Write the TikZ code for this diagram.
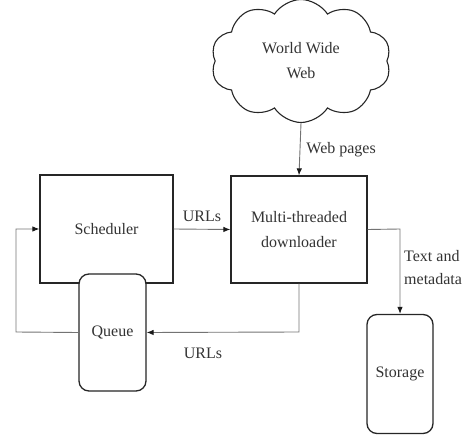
\documentclass[tikz,border=0pt]{standalone}
\usepackage{fontspec}
\setmainfont{Liberation Serif}
\usetikzlibrary{shapes.symbols,arrows.meta}
\begin{document}
\begin{tikzpicture}[x=1pt,y=-1pt,
  every node/.style={font=\fontsize{16}{25}\selectfont, text=black!80},
  box/.style={draw=black!85, line width=1.3pt, fill=white, inner sep=0pt},
  roundbox/.style={box, rounded corners=10pt},
  link/.style={draw=black!55, line width=0.9pt, -{Latex[length=7pt,width=5.5pt,color=black!90]}},
  lbl/.style={inner sep=0pt}]
\useasboundingbox (0,0) rectangle (465,435);

% main components
\node[box, minimum width=133pt, minimum height=108pt] (sched) at (106.5,229) {Scheduler};
\node[box, minimum width=136pt, minimum height=107pt, align=center] (dl) at (299,229.5) {Multi-threaded\\downloader};
\node[roundbox, minimum width=67pt, minimum height=117pt] (queue) at (112.5,332.5) {Queue};
\node[roundbox, minimum width=66pt, minimum height=119pt] (store) at (400,374) {Storage};
\node[cloud, draw=black!85, line width=1.1pt, cloud puffs=10, cloud puff arc=115,
      minimum width=180pt, minimum height=113pt, inner sep=0pt, align=center] (web) at (301,61) {World Wide\\Web};

% helper points for the bent connectors
\coordinate (qleft) at (16,332);
\coordinate (dlbot) at (299,332);
\coordinate (dlright) at (400,229);

% connectors
\draw[link] (web.south) -- (dl.north) node[lbl, midway, anchor=west, xshift=6pt] {Web pages};
\draw[link] (sched.east) -- (dl.west) node[lbl, midway, above=7pt] {URLs};
\draw[link] (dl.south) -- (dlbot) -- (queue.east);
\node[lbl] (urls2) at (203,353) {URLs};
\draw[link] (queue.west) -- (qleft) |- (sched.west);
\draw[link] (dl.east) -- (dlright) -- (store.north);
\node[lbl, align=left, anchor=west, font=\fontsize{16}{23}\selectfont] (meta) at (404,268) {Text and\\metadata};
\end{tikzpicture}
\end{document}
